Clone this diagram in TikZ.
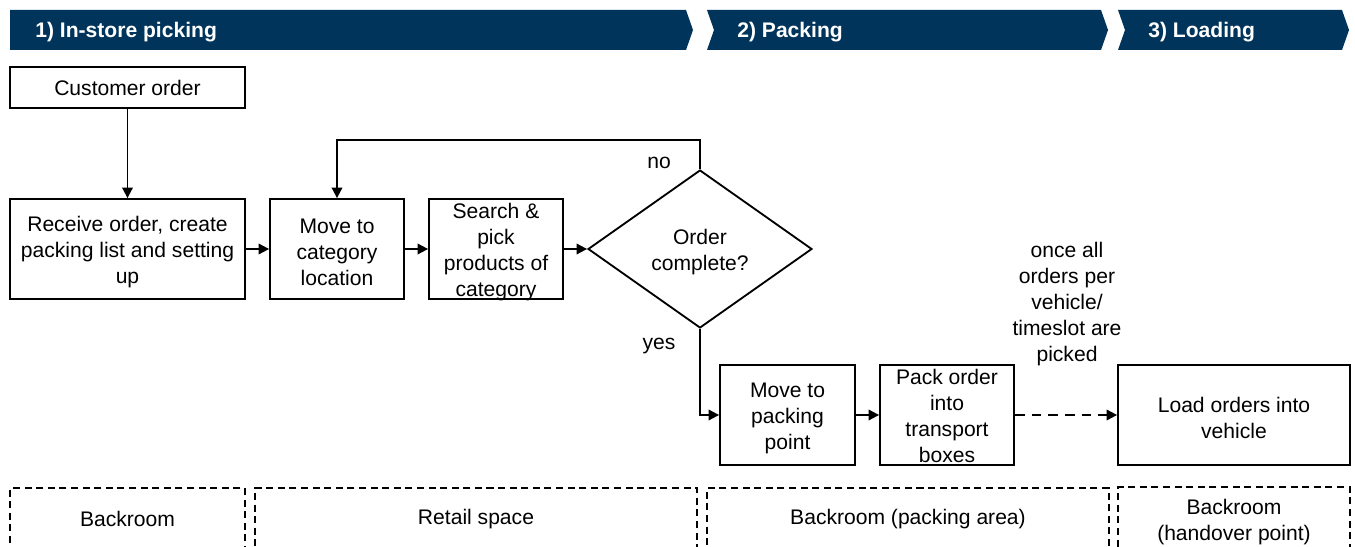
\documentclass[tikz,border=0pt]{standalone}
\usepackage{fontspec}
\setmainfont{Liberation Sans}
\usepackage{xcolor}
\usepackage{tikz}
\usetikzlibrary{arrows.meta}
\usetikzlibrary{shapes.geometric}

\definecolor{headblue}{RGB}{0,52,90}
% taller first line, so that stacked lines sit a little lower in their box
\newcommand{\firstline}[1][12.2pt]{\rule{0pt}{#1}}

\begin{document}
\begin{tikzpicture}[x=0.02cm,y=-0.02cm,
		every node/.style={font=\fontsize{12}{14.8}\selectfont, align=center},
		box/.style={shape=rectangle, draw=black, line width=1.05pt, inner xsep=2pt, inner ysep=0pt},
		area/.style={shape=rectangle, draw=black, line width=1.05pt, dash pattern=on 4pt off 2.6pt, minimum height=1.24cm},
		head/.style={text=white, inner sep=0pt, anchor=west, font=\fontsize{12}{14.8}\selectfont\bfseries},
		flow/.style={-{Triangle[length=6pt,width=6pt]}, line width=1.05pt}]
			\useasboundingbox (0,0) rectangle (1355,547);
			\clip (0,0) rectangle (1355,547);

			%% phase bar
			\fill[headblue] (10,10) -- (686,10) -- (693,30) -- (686,50) -- (10,50) -- cycle;
			\fill[headblue] (707,10) -- (1101,10) -- (1108,30) -- (1101,50) -- (707,50) -- (714,30) -- cycle;
			\fill[headblue] (1118,10) -- (1342,10) -- (1349,30) -- (1342,50) -- (1118,50) -- (1125,30) -- cycle;
			\node[head] (h1) at (35,32.5) {1) In-store picking};
			\node[head] (h2) at (737,32.5) {2) Packing};
			\node[head] (h3) at (1148,32.5) {3) Loading};

			%% process steps
			\node[box, minimum width=4.7cm, minimum height=0.82cm] (cust) at (127.5,87.5) {Customer order};
			\node[box, minimum width=4.7cm, minimum height=2cm] (recv) at (127.5,249) {\firstline Receive order, create\\packing list and setting\\up};
			\node[box, minimum width=2.68cm, minimum height=2cm] (mcat) at (337,249) {\firstline Move to\\category\\location};
			\node[box, text depth=0pt, minimum width=2.68cm, minimum height=2cm] (pick) at (496,249) {\firstline[10.1pt]Search \&\\pick\\products of\\category};
			\node[shape=diamond, draw=black, line width=1.05pt, inner sep=0pt, minimum width=4.48cm, minimum height=3.16cm] (done) at (700,249) {\firstline Order\\complete?};
			\node[box, minimum width=2.7cm, minimum height=2cm] (mpack) at (787.5,415) {\firstline Move to\\packing\\point};
			\node[box, text depth=0pt, minimum width=2.68cm, minimum height=2cm] (pack) at (947,415) {\firstline[10.1pt]Pack order\\into\\transport\\boxes};
			\node[box, minimum width=4.64cm, minimum height=2cm] (load) at (1234,415) {\firstline Load orders into\\vehicle};
			\node (note) at (1067,301) {\firstline once all\\orders per\\vehicle/\\timeslot are\\picked};
			\node (no) at (659,162.5) {no};
			\node (yes) at (659,346) {yes};

			%% locations
			\node[area] (a1) at (127.5,519) [minimum width=4.7cm] {Backroom};
			\node[area] (a2) at (476,519) [minimum width=8.84cm] {Retail space};
			\node[area] (a3) at (908,519) [minimum width=8.04cm] {Backroom (packing area)};
			\node[area] (a4) at (1234,519) [minimum width=4.64cm] {\firstline Backroom\\(handover point)};

			%% lines
			\draw[flow] (cust) -- (recv);
			\draw[flow] (recv) -- (mcat);
			\draw[flow] (mcat) -- (pick);
			\draw[flow] (pick) -- (done);
			\draw[flow] (done.north) -- ++(0,-29) -| (mcat.north);
			\draw[flow] (done.south) |- (mpack.west);
			\draw[flow] (mpack) -- (pack);
			\draw[flow, dash pattern=on 5.5pt off 4pt] (pack) -- (load);
		\end{tikzpicture}
\end{document}
